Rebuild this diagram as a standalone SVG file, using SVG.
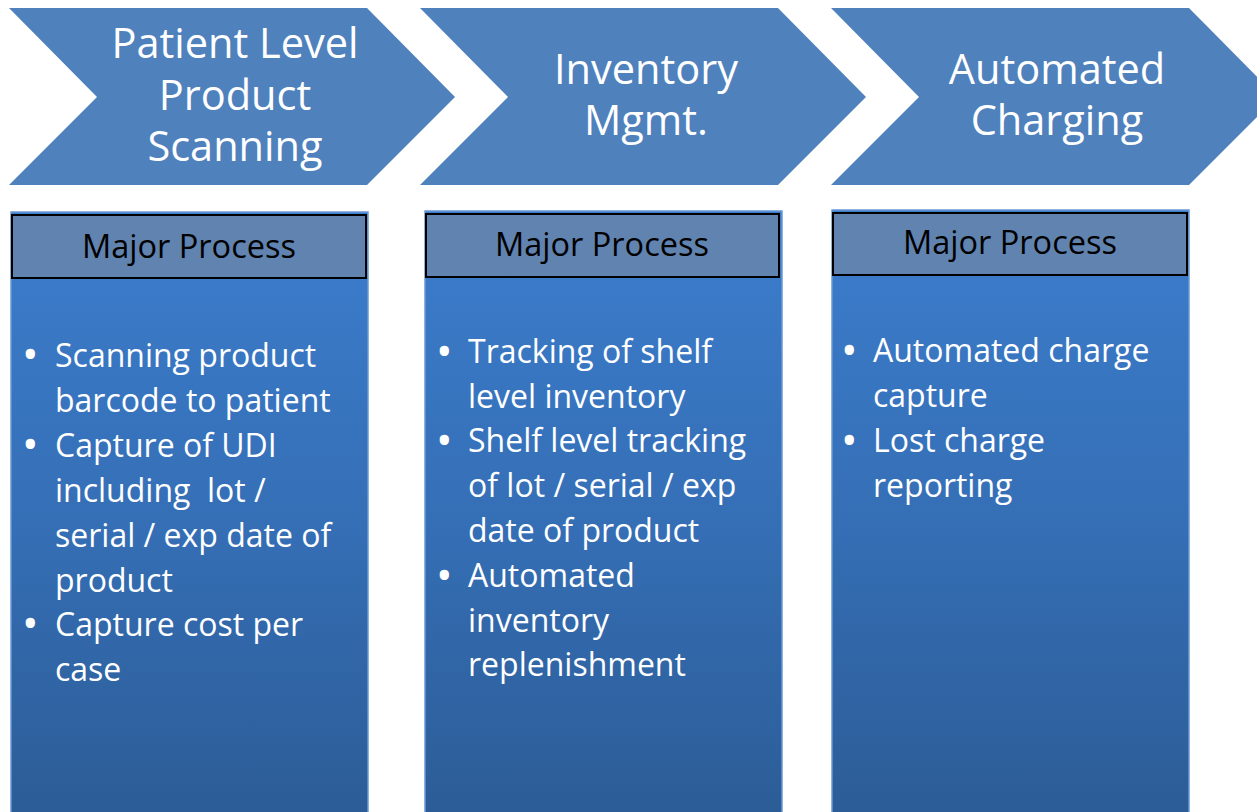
<svg xmlns="http://www.w3.org/2000/svg" width="1257" height="812" viewBox="0 0 1257 812">
<style>
.chev{fill:#4F81BD;}
.col{fill:url(#colg);stroke:#6A98D4;stroke-width:1.5;}
.hdr{fill:#6183B0;stroke:#000;stroke-width:2;}
.title{font-family:"Open Sans","DejaVu Sans",sans-serif;font-size:41.5px;fill:#fff;text-anchor:middle;}
.htxt{font-family:"Open Sans","DejaVu Sans",sans-serif;font-size:32.5px;fill:#000;text-anchor:middle;}
.body{font-family:"Open Sans","DejaVu Sans",sans-serif;font-size:32px;fill:#fff;white-space:pre;}
.bul{font-family:"Open Sans","DejaVu Sans",sans-serif;font-size:44px;fill:#fff;}
</style>
<defs>
<linearGradient id="colg" x1="0" y1="0" x2="0" y2="1">
<stop offset="0" stop-color="#3C7DCD"/>
<stop offset="0.5" stop-color="#356FB6"/>
<stop offset="1" stop-color="#2C5C96"/>
</linearGradient>
</defs>
<rect width="1257" height="812" fill="#fff"/>
<g id="step1">
<polygon class="chev" points="9,8 367,8 455,97 367,185 9,185 97,97"/>
<text class="title" x="235" y="58">Patient Level</text>
<text class="title" x="235" y="110">Product</text>
<text class="title" x="235" y="161">Scanning</text>
</g>
<g id="step2">
<polygon class="chev" points="420,8 778,8 866,97 778,185 420,185 508,97"/>
<text class="title" x="646" y="84">Inventory</text>
<text class="title" x="646" y="135">Mgmt.</text>
</g>
<g id="step3">
<polygon class="chev" points="831,8 1189,8 1277,97 1189,185 831,185 919,97"/>
<text class="title" x="1057" y="84">Automated</text>
<text class="title" x="1057" y="135">Charging</text>
</g>
<g id="col1">
<rect class="col" x="11" y="212" width="357" height="610"/>
<rect class="hdr" x="12" y="215" width="354" height="63"/>
<text class="htxt" x="189" y="258">Major Process</text>
<text class="bul" x="22" y="370">•</text>
<text class="body" x="55" y="367">Scanning product</text>
<text class="body" x="55" y="412">barcode to patient</text>
<text class="bul" x="22" y="460">•</text>
<text class="body" x="55" y="457">Capture of UDI</text>
<text class="body" x="55" y="502">including  lot /</text>
<text class="body" x="55" y="547">serial / exp date of</text>
<text class="body" x="55" y="592">product</text>
<text class="bul" x="22" y="639">•</text>
<text class="body" x="55" y="636">Capture cost per</text>
<text class="body" x="55" y="681">case</text>
</g>
<g id="col2">
<rect class="col" x="425" y="211" width="357" height="611"/>
<rect class="hdr" x="426" y="214" width="353" height="63"/>
<text class="htxt" x="602" y="256">Major Process</text>
<text class="bul" x="436" y="367">•</text>
<text class="body" x="468" y="363">Tracking of shelf</text>
<text class="body" x="468" y="408">level inventory</text>
<text class="bul" x="436" y="456">•</text>
<text class="body" x="468" y="452">Shelf level tracking</text>
<text class="body" x="468" y="497">of lot / serial / exp</text>
<text class="body" x="468" y="542">date of product</text>
<text class="bul" x="436" y="591">•</text>
<text class="body" x="468" y="587">Automated</text>
<text class="body" x="468" y="632">inventory</text>
<text class="body" x="468" y="676">replenishment</text>
</g>
<g id="col3">
<rect class="col" x="832" y="210" width="357" height="612"/>
<rect class="hdr" x="833" y="213" width="354" height="62"/>
<text class="htxt" x="1010" y="254">Major Process</text>
<text class="bul" x="841" y="366">•</text>
<text class="body" x="873" y="362">Automated charge</text>
<text class="body" x="873" y="407">capture</text>
<text class="bul" x="841" y="456">•</text>
<text class="body" x="873" y="452">Lost charge</text>
<text class="body" x="873" y="497">reporting</text>
</g>
<g id="connectors"></g>
</svg>
